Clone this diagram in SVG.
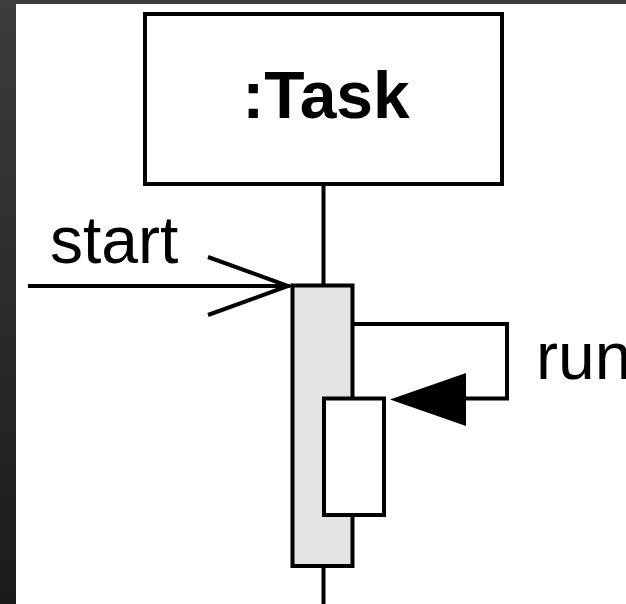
<svg xmlns="http://www.w3.org/2000/svg" width="626" height="604" viewBox="0 0 626 604">
<defs>
<linearGradient id="bg" x1="0" y1="0" x2="0" y2="1">
<stop offset="0" stop-color="#3c3c3c"/>
<stop offset="1" stop-color="#1b1b1b"/>
</linearGradient>
<style>
.ln{stroke:#000;stroke-width:4;fill:none}
.box{stroke:#000;stroke-width:4;fill:#fff}
.act{stroke:#000;stroke-width:4;fill:#e4e4e4}
.lbl{font-family:"Liberation Sans",Arial,sans-serif;font-size:66px;fill:#000}
</style>
</defs>
<rect x="0" y="0" width="626" height="604" fill="url(#bg)"/>
<rect x="16" y="4" width="610" height="600" fill="#fff"/>
<g id="lifeline">
<line class="ln" x1="323.5" y1="184" x2="323.5" y2="604"/>
</g>
<g id="task">
<rect class="box" x="145" y="14" width="357" height="170"/>
<text class="lbl" x="326" y="118" text-anchor="middle" font-weight="bold">:Task</text>
</g>
<g id="activation">
<rect class="act" x="292.5" y="285.5" width="60" height="280.5"/>
</g>
<g id="connectors">
<line class="ln" x1="28" y1="286" x2="290" y2="286"/>
<polyline class="ln" stroke-width="3.5" points="208,257 288,286 208,315"/>
<polyline class="ln" points="352.5,324 507,324 507,398.5 460,398.5"/>
<polygon points="390,399.5 466,373 466,426" fill="#000"/>
<text class="lbl" x="50" y="263">start</text>
<text class="lbl" x="536" y="379">run</text>
</g>
<g id="inner-activation">
<rect class="box" x="324" y="398.5" width="60" height="116.5"/>
</g>
</svg>
